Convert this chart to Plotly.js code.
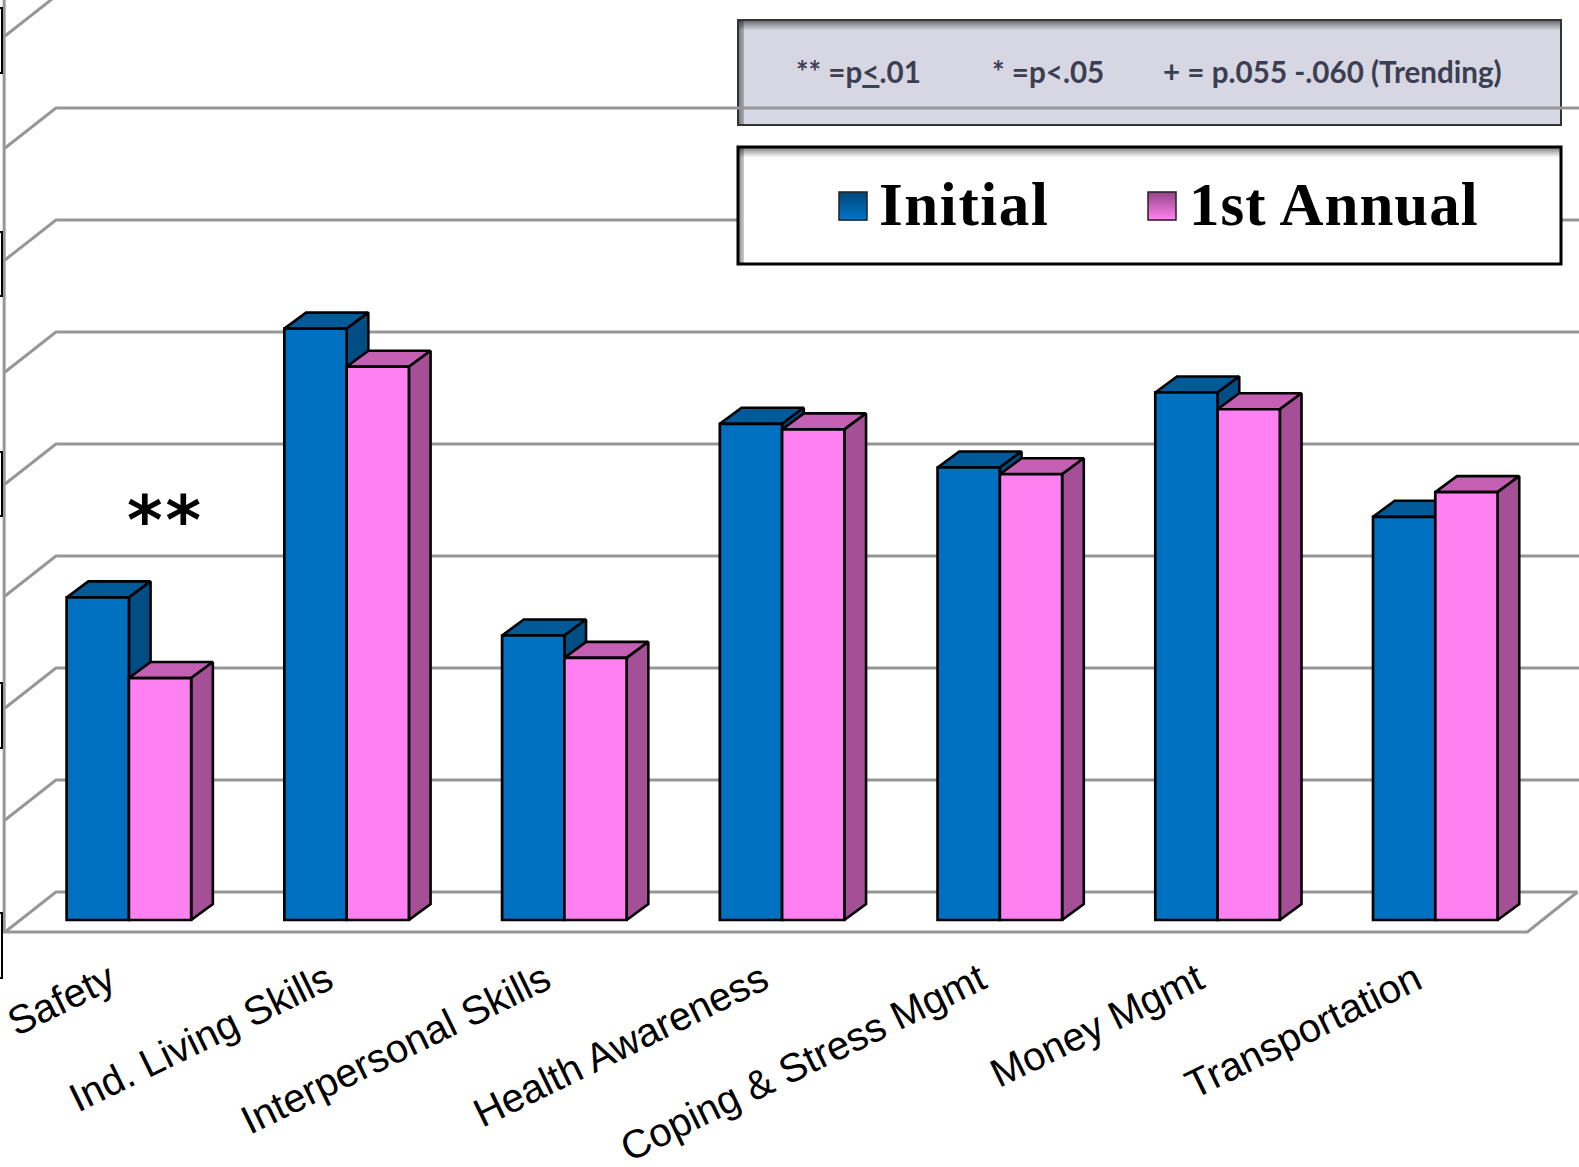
<!DOCTYPE html>
<html>
<head>
<meta charset="utf-8">
<script src="https://cdn.plot.ly/plotly-3.0.1.min.js"></script>
<style>html,body{margin:0;padding:0;background:#fff}#chart{width:1579px;height:1167px}</style>
</head>
<body>
<div id="chart"></div>
<script>
// Life-skills scores at the initial and first annual assessment
const categories = ["Safety", "Ind. Living Skills", "Interpersonal Skills", "Health Awareness", "Coping & Stress Mgmt", "Money Mgmt", "Transportation"];
const initialScores = [2.88, 5.28, 2.54, 4.43, 4.04, 4.71, 3.60];
const annualScores = [2.16, 4.94, 2.34, 4.38, 3.98, 4.56, 3.82];
const wallLevels = [0, 1, 2, 3, 4, 5, 6, 7, 8];

const W = 1579, H = 1167, PLOT_H = 948;
const xRange = [-0.592, 6.660];
const yRange = [-0.25, 8.214];

// Pseudo-3D geometry, in axis units
const barWidth = 0.286;
const depthX = 0.0996, depthY = 0.143;
const wallLift = 0.25, floorDrop = 0.357;
const wallBackX = -0.335, wallFrontX = -0.569;
const floorRightBackX = 6.653, floorRightFrontX = 6.423;

const colors = {
  initial: {front: "#0070C0", top: "#005A98", side: "#004E84"},
  annual: {front: "#FF80F0", top: "#C45FB4", side: "#A44F96"}
};

const traces = [];

function face(xs, ys, fill) {
  traces.push({type: "scatter", mode: "lines", x: xs, y: ys, fill: "toself", fillcolor: fill,
    line: {color: "#000", width: 2.6}, hoverinfo: "skip", showlegend: false, xaxis: "x", yaxis: "y"});
}

// Chart walls: each level runs along the back wall and turns forward at the left
wallLevels.forEach(k => {
  const back = k + wallLift, front = back - floorDrop;
  const right = k === 0 ? floorRightBackX : xRange[1];
  traces.push({type: "scatter", mode: "lines", x: [wallFrontX, wallBackX, right], y: [front, back, back],
    line: {color: "#979797", width: 3}, hoverinfo: "skip", showlegend: false, xaxis: "x", yaxis: "y"});
});
traces.push({type: "scatter", mode: "lines",
  x: [wallFrontX - 0.004, wallFrontX - 0.004, floorRightFrontX, floorRightBackX],
  y: [yRange[1], wallLift - floorDrop, wallLift - floorDrop, wallLift],
  line: {color: "#979797", width: 3}, hoverinfo: "skip", showlegend: false, xaxis: "x", yaxis: "y"});

// Top and side faces sit behind the front faces; the initial bar goes first
function depthFaces(values, x0Shift, palette) {
  values.forEach((v, i) => {
    const x0 = i + x0Shift, x1 = x0 + barWidth;
    face([x0, x1, x1 + depthX, x0 + depthX, x0], [v, v, v + depthY, v + depthY, v], palette.top);
    face([x1, x1 + depthX, x1 + depthX, x1, x1], [0, depthY, v + depthY, v, 0], palette.side);
  });
}
depthFaces(initialScores, -barWidth, colors.initial);
depthFaces(annualScores, 0, colors.annual);

// Front faces live on an overlaid subplot so that they cover the depth faces
const xs = categories.map((_, i) => i);
traces.push({type: "bar", name: "Initial", x: xs, y: initialScores, width: barWidth, offset: -barWidth,
  marker: {color: colors.initial.front, line: {color: "#000", width: 2.7}}, xaxis: "x2", yaxis: "y2", hoverinfo: "skip"});
traces.push({type: "bar", name: "1st Annual", x: xs, y: annualScores, width: barWidth, offset: 0,
  marker: {color: colors.annual.front, line: {color: "#000", width: 2.7}}, xaxis: "x2", yaxis: "y2", hoverinfo: "skip"});

// Helpers for items placed in page pixels
const px = v => v / W;
const py = v => 1 - v / PLOT_H;
function rect(x0, y0, x1, y1, opts) {
  return Object.assign({type: "rect", xref: "paper", yref: "paper", x0: px(x0), x1: px(x1), y0: py(y0), y1: py(y1),
    line: {width: 0}}, opts);
}
function mix(a, b, t) {
  return "rgb(" + a.map((c, i) => Math.round(c + (b[i] - c) * t)).join(",") + ")";
}

const shapes = [];

function panel(l, t, r, b, fill, border, borderWidth, layer) {
  shapes.push(rect(l, t, r, b, {fillcolor: fill, layer: layer}));
  for (let i = 0; i < 10; i++) {
    const a = 0.5 * (1 - i / 10);
    shapes.push(rect(l, t + i, r, t + i + 1, {fillcolor: "rgba(0,0,0," + a + ")", layer: layer}));
    if (i < 6) shapes.push(rect(l + i, t, l + i + 1, b, {fillcolor: "rgba(0,0,0," + a * 0.9 + ")", layer: layer}));
  }
  shapes.push(rect(l, t, r, b, {line: {color: border, width: borderWidth}, fillcolor: "rgba(0,0,0,0)", layer: layer}));
}
panel(738, 20, 1561, 125, "#D6D7E2", "#333", 2, "below");
panel(738, 147, 1561, 264, "#FFFFFF", "#000", 3, "above");

function swatch(l, t, r, b, dark, bright) {
  const steps = 14, h = (b - t) / steps;
  for (let i = 0; i < steps; i++) {
    shapes.push(rect(l, t + i * h, r, t + (i + 1) * h + 0.5, {fillcolor: mix(dark, bright, i / (steps - 1)), layer: "above"}));
  }
  shapes.push(rect(l, t, r, b, {line: {color: "#222", width: 1.5}, fillcolor: "rgba(0,0,0,0)", layer: "above"}));
}
swatch(839, 192, 867, 220, [0, 72, 120], [0, 116, 198]);
swatch(1148, 192, 1176, 220, [150, 72, 138], [255, 128, 240]);

// Small bracket marks along the left edge
[[8, 73], [232, 296], [452, 516], [683, 748], [913, 978]].forEach(([t, b]) => {
  shapes.push(rect(-12, t, 2, b, {line: {color: "#000", width: 2}, fillcolor: "rgba(0,0,0,0)", layer: "above"}));
});

function note(text, x, y, size, family, color, anchor, extra) {
  return Object.assign({text: text, xref: "paper", yref: "paper", x: px(x), y: py(y), showarrow: false,
    xanchor: anchor || "left", yanchor: "middle", font: {size: size, family: family, color: color}}, extra);
}
const panelFont = "Lato, sans-serif", legendFont = "'Liberation Serif', serif";
const annotations = [
  note("<b>** =p<span style=\"text-decoration:underline\">&lt;</span>.01</b>", 794, 72, 29.6, panelFont, "#3C3E52"),
  note("<b>* =p&lt;.05</b>", 990, 72, 29.6, panelFont, "#3C3E52"),
  note("<b>+ = p.055 -.060 (Trending)</b>", 1161, 72, 29.6, panelFont, "#3C3E52"),
  note("<b><span style=\"letter-spacing:1.6px\">Initial</span></b>", 877, 204, 61, legendFont, "#000"),
  note("<b><span style=\"letter-spacing:1px\">1st Annual</span></b>", 1187, 204, 61, legendFont, "#000"),
  note("<b><span style=\"letter-spacing:3px\">**</span></b>", 165, 520, 68, "'DejaVu Sans', sans-serif", "#000", "center")
];

const layout = {
  width: W, height: H,
  margin: {l: 0, r: 0, t: 0, b: H - PLOT_H, pad: 0},
  paper_bgcolor: "#fff", plot_bgcolor: "rgba(0,0,0,0)",
  showlegend: false, barmode: "overlay", hovermode: false,
  xaxis: {range: xRange, showgrid: false, zeroline: false, showline: false, ticks: "",
    tickmode: "array", tickvals: xs.map(i => i - 0.09), ticktext: categories, tickangle: -26,
    tickfont: {family: "'Liberation Sans', Arial, sans-serif", size: 40, color: "#000"}, automargin: false},
  yaxis: {range: yRange, showgrid: false, zeroline: false, showline: false, showticklabels: false, ticks: ""},
  xaxis2: {range: xRange, overlaying: "x", anchor: "y2", visible: false},
  yaxis2: {range: yRange, overlaying: "y", anchor: "x2", visible: false},
  shapes: shapes, annotations: annotations
};

Plotly.newPlot("chart", traces, layout, {displayModeBar: false, staticPlot: true});
</script>
</body>
</html>
